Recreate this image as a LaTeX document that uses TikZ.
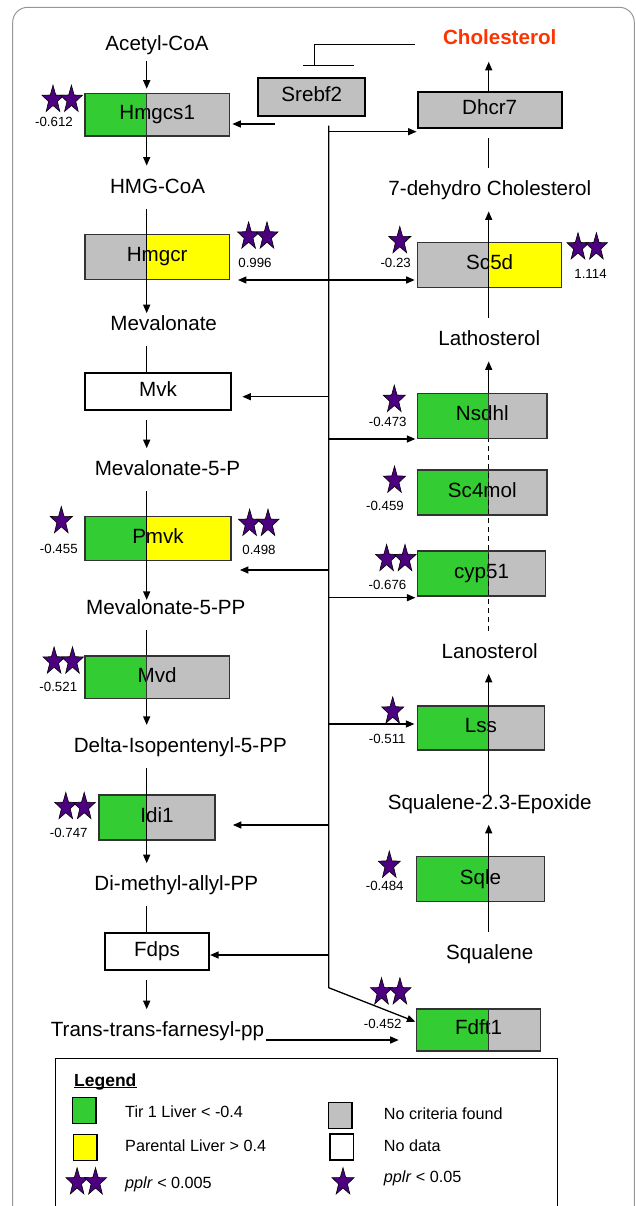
\documentclass[tikz,border=0pt]{standalone}
\usepackage{fontspec}
\setmainfont{Liberation Sans}
\usetikzlibrary{arrows.meta}
\pgfdeclarelayer{bg}
\pgfsetlayers{bg,main}

\definecolor{cgreen}{RGB}{51,204,51}
\definecolor{cgray}{RGB}{192,192,192}
\definecolor{cyellow}{RGB}{255,255,0}
\definecolor{cstar}{RGB}{76,0,128}
\definecolor{cchol}{RGB}{255,51,0}
\definecolor{cedge}{RGB}{51,51,51}
\definecolor{cframe}{RGB}{150,150,150}

\newcommand\pathfont{\fontsize{20.6}{24}\selectfont}
\newcommand\valfont{\fontsize{13.3}{16}\selectfont}
\newcommand\legfont{\fontsize{16.2}{19}\selectfont}

\tikzset{
  metab/.style={font=\pathfont, inner xsep=2pt, inner ysep=11pt, text height=16.3pt, text depth=4.5pt},
  gene/.style={draw=cedge, line width=1.2pt, inner sep=0pt, font=\pathfont, text height=14.7pt, text depth=5pt},
  enz/.style={gene, draw=black, line width=2.2pt},
  val/.style={font=\valfont, inner sep=0pt, text height=9.5pt, text depth=0pt},
  legtext/.style={font=\legfont, inner sep=0pt, anchor=base west},
  swatch/.style={draw=black, line width=1.5pt, minimum width=23.5, minimum height=26, inner sep=0pt},
  flow/.style={line width=1.3pt, -{Triangle[length=8.5pt,width=7pt]}},
  link/.style={line width=1.3pt},
  pics/pstar/.style={code={
    \filldraw[fill=cstar, draw=black, line width=0.6pt, xscale=0.8, yscale=-1]
      (90:14.5) -- (126:5.8) -- (162:14.5) -- (198:5.8) -- (234:14.5) -- (270:5.8)
      -- (306:14.5) -- (342:5.8) -- (18:14.5) -- (54:5.8) -- cycle;}}
}

\begin{document}
\begin{tikzpicture}[x=1pt, y=-1pt]
\clip (0,0) rectangle (636,1206);
%\draw[help lines] (0,0) grid[step=50] (636,1206);
\draw[cframe, line width=1pt, rounded corners=15pt] (12.7,1240) -- (12.7,7.3) -- (634.3,7.3) -- (634.3,1240);

\coordinate (colL) at (146.7,0);
\coordinate (colR) at (488.7,0);

% metabolites
\foreach \nm/\cx/\cy/\txt in {acetyl/157/44.2/Acetyl-CoA, hmgcoa/157.5/187.2/HMG-CoA,
    meval/163.7/324.8/Mevalonate, mevp/167.5/469.8/Mevalonate-5-P,
    mevpp/165.8/608.8/Mevalonate-5-PP, dipp/180.3/746.5/Delta-Isopentenyl-5-PP,
    dmapp/176.3/884.8/Di-methyl-allyl-PP, fpp/157.5/1030.8/Trans-trans-farnesyl-pp,
    dhchol/489.8/189.8/7-dehydro Cholesterol, latho/489.3/339.8/Lathosterol,
    lano/489.7/652.2/Lanosterol, sqepox/489.7/803.2/Squalene-2.3-Epoxide,
    squal/489.7/953.8/Squalene}
  \node[metab] (\nm) at (\cx,\cy) {\txt};
\node[metab, font=\pathfont\bfseries, text=cchol] (chol) at (499.7,38.2) {Cholesterol};

% genes with two colours
\foreach \nm/\cx/\cy/\bw/\bh/\sx/\lc/\rc/\txt in {
    hmgcs1/157.2/114.7/144.3/42.7/146.7/cgreen/cgray/Hmgcs1,
    hmgcr/157.2/256.8/144.3/45/146.7/cgray/cyellow/Hmgcr,
    pmvk/158/538.7/146/44/146.7/cgreen/cyellow/Pmvk,
    mvd/157.2/677.2/144.3/42.3/146.7/cgreen/cgray/Mvd,
    idi1/157/817.5/116/45/146.7/cgreen/cgray/Idi1,
    sc5d/489.7/265/144/44.6/488.7/cgray/cyellow/Sc5d,
    nsdhl/482.3/415.8/129.3/45/488.7/cgreen/cgray/Nsdhl,
    sc4mol/482.3/492.5/129.3/45/488.7/cgreen/cgray/Sc4mol,
    cyp51/481.5/573.5/127.6/45/488.7/cgreen/cgray/cyp51,
    lss/481/728/126.6/44/488.7/cgreen/cgray/Lss,
    sqle/480.5/879.2/127.6/45/488.7/cgreen/cgray/Sqle,
    fdft1/478.5/1030/123.6/42/488.7/cgreen/cgray/Fdft1}{
  \node[gene, minimum width=\bw, minimum height=\bh] (\nm) at (\cx,\cy) {\txt};
  \begin{pgfonlayer}{bg}
    \fill[\lc] (\nm.south west) rectangle (\nm.north -| \sx,0);
    \fill[\rc] (\nm.south -| \sx,0) rectangle (\nm.north east);
  \end{pgfonlayer}
  \draw[cedge, line width=1.2pt] (\nm.north -| \sx,0) -- (\nm.south -| \sx,0);
}

% plain boxes
\foreach \nm/\cx/\cy/\bw/\bh/\fc/\txt in {srebf2/311.8/97/107/37.4/cgray/Srebf2,
    dhcr7/489.7/110/144/36.6/cgray/Dhcr7, mvk/158/391.7/146/36.7/white/Mvk,
    fdps/157/951.7/104/36.7/white/Fdps}
  \node[enz, fill=\fc, minimum width=\bw, minimum height=\bh] (\nm) at (\cx,\cy) {\txt};

% left pathway
\draw[flow, shorten <=-5, shorten >=4] (acetyl.south -| colL) -- (hmgcs1.north -| colL);
\draw[flow] (hmgcs1.south -| colL) -- (hmgcoa.north -| colL);
\draw[flow, shorten >=-10] (hmgcoa.south -| colL) -- (meval.north -| colL);
\draw[link] (meval.south -| colL) -- (mvk.north -| colL);
\draw[flow, shorten <=9] (mvk.south -| colL) -- (mevp.north -| colL);
\draw[flow, shorten >=-12.7] (mevp.south -| colL) -- (mevpp.north -| colL);
\draw[link] (mevpp.south -| colL) -- (mvd.north -| colL);
\draw[flow] (mvd.south -| colL) -- (dipp.north -| colL);
\draw[flow] (dipp.south -| colL) -- (dmapp.north -| colL);
\draw[link] (dmapp.south -| colL) -- (fdps.north -| colL);
\draw[flow, shorten <=9] (fdps.south -| colL) -- (fpp.north -| colL);
\draw[flow, shorten >=17.4] (fpp.east |- 0,1040) -- (fdft1.west |- 0,1040);

% right pathway
\draw[flow, shorten >=2] (dhcr7.north -| colR) -- (chol.south -| colR);
\draw[link, shorten >=9] (dhchol.north -| colR) -- (dhcr7.south -| colR);
\draw[flow] (latho.north -| colR) -- (dhchol.south -| colR);
\draw[flow] (nsdhl.north -| colR) -- (latho.south -| colR);
\draw[link, dash pattern=on 5pt off 4pt] (lano.north -| colR) -- (nsdhl.south -| colR);
\draw[flow, shorten <=-13.3] (sqepox.north -| colR) -- (lano.south -| colR);
\draw[flow] (squal.north -| colR) -- (sqepox.south -| colR);

% Srebf2 control
\coordinate (inhib) at (314.3,65.7);
\draw[link] (chol.west) ++(-26,6.1) -| (inhib);
\draw[link] (inhib) ++(-11,0) -- ++(51,0);
\draw[flow, shorten >=2.4] (srebf2.west |- 0,124) ++(17.7,0) -- (hmgcs1.east |- 0,124);

\coordinate (trunk) at (328.7,125.7);
\coordinate (trunkend) at (328.7,987.7);
\draw[flow] (trunk) -- (trunkend) -- ([xshift=-0.7pt]fdft1.west |- 0,1021.7);
\foreach \cy/\g/\s in {396.7/mvk/10.3, 570/pmvk/8.3, 825/idi1/17.3, 955/fdps/0}
  \draw[flow, shorten >=\s] (trunk |- 0,\cy) -- (\g.east |- 0,\cy);
\foreach \cy/\g/\s in {131.7/dhcr7/0, 439/nsdhl/1.7, 597.7/cyp51/1.7, 724/lss/2.7}
  \draw[flow, shorten >=\s] (trunk |- 0,\cy) -- (\g.west |- 0,\cy);
\draw[line width=1.3pt, {Triangle[length=8.5pt,width=7pt]}-{Triangle[length=8.5pt,width=7pt]},
  shorten <=8, shorten >=2.4] (hmgcr.east |- 0,280) -- (sc5d.west |- 0,280);

% stars and values
\foreach \cx/\cy in {399.8/241, 394.3/399.7, 394.5/480.6, 61.3/521, 392.7/711.4, 389.3/865.6, 343/1182.2}
  \pic at (\cx,\cy) {pstar};
\foreach \cx/\cy in {62.2/99.7, 257.8/236.4, 587.2/247.2, 395.8/558.9, 258.8/523.7,
    63.3/661.4, 75/806.9, 390.7/992.2, 86.3/1182.2}{
  \pic at (\cx-9.2,\cy) {pstar};
  \pic at (\cx+9.2,\cy) {pstar};
}
\foreach \nm/\cx/\cy/\txt in {hmgcs1/54/121.7/-0.612, hmgcr/255/262.3/0.996,
    sc5dl/395.7/262.3/-0.23, sc5dr/590.5/274/1.114, nsdhl/387.7/421.7/-0.473,
    sc4mol/385/506/-0.459, cyp51/387.5/584.3/-0.676, pmvkl/58.8/548.3/-0.455,
    pmvkr/259/549.3/0.498, mvd/58.3/686.7/-0.521, lss/387.2/738.3/-0.511,
    idi1/68.7/832.3/-0.747, sqle/384.7/885.7/-0.484, fdft1/382.7/1024/-0.452}
  \node[val] (v\nm) at (\cx,\cy) {\txt};

% legend
\draw[line width=1.3pt] (55.7,1058.3) rectangle (557.7,1240);
\node[font=\fontsize{17.5}{20}\selectfont\bfseries, inner sep=0pt, anchor=base west] (legttl) at (74,1086) {Legend};
\draw[line width=1.2pt] ([yshift=-1.5pt]legttl.base west) -- ([yshift=-1.5pt]legttl.base east);
\node[swatch, fill=cgreen] (swgreen) at (84,1110.5) {};
\node[swatch, fill=cyellow] (swyellow) at (85,1147.5) {};
\node[swatch, fill=cgray] (swgray) at (340.2,1115.5) {};
\node[swatch, fill=white] (swwhite) at (341.8,1147.2) {};
\node[legtext] (lgreen) at (125,1117.5) {Tir 1 Liver < -0.4};
\node[legtext] (lyellow) at (125,1151.8) {Parental Liver > 0.4};
\node[legtext] (ltwo) at (125,1188.1) {\textit{pplr} < 0.005};
\node[legtext] (lgray) at (383.7,1119.1) {No criteria found};
\node[legtext] (lwhite) at (383.7,1151.5) {No data};
\node[legtext] (lone) at (383.7,1182.5) {\textit{pplr} < 0.05};
\end{tikzpicture}
\end{document}
